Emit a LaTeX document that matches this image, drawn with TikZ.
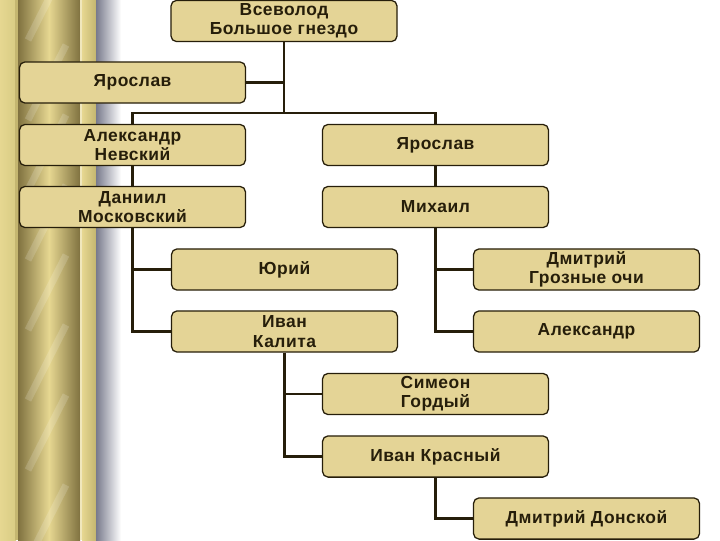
\documentclass[tikz,border=0pt]{standalone}
\usepackage{fontspec}
\setmainfont{Liberation Sans}[LetterSpace=3]
\usepackage{xcolor}
\usetikzlibrary{positioning}
\definecolor{rod_fill}{RGB}{228, 212, 150}
\definecolor{rod_line}{RGB}{38, 30, 10}
\definecolor{gold_pale}{RGB}{216, 204, 132}
\definecolor{gold_light}{RGB}{230, 215, 145}
\definecolor{gold_dark}{RGB}{128, 114, 64}
\definecolor{gold_mid}{RGB}{196, 182, 112}
\definecolor{shade_gray}{RGB}{120, 122, 140}

\begin{document}
\begin{tikzpicture}[x=0.025cm, y=-0.025cm,
          font=\bfseries\fontsize{12.4}{13.8}\selectfont,
          kbox/.style={draw=rod_line, line width=0.9pt, fill=rod_fill,
                       rounded corners=4pt, align=center, text=rod_line,
                       minimum width=5.65cm, minimum height=1.03cm, inner sep=1pt},
          link/.style={rod_line, line width=1.5pt}]
          \useasboundingbox (0,0) rectangle (720,540);
          % gold column on the left
          \shade[left color=gold_light, right color=gold_pale] (0,0) rectangle (16,540);
          \fill[gold_mid] (15,0) rectangle (18,540);
          \shade[left color=gold_dark, right color=gold_dark, middle color=gold_light]
            (18,0) rectangle (80,540);
          \begin{scope}
            \clip (20,0) rectangle (78,540);
            \foreach \y in {40, 120, 190, 260, 330, 400, 470, 560}
              \draw[white, opacity=0.16, line width=5pt] (28,\y) -- (66,\y-75);
          \end{scope}
          \fill[gold_light!60!white] (80,0) rectangle (82,540);
          \shade[left color=gold_light, right color=gold_mid] (82,0) rectangle (96,540);
          \shade[left color=shade_gray, right color=white] (96,0) rectangle (121,540);

          % family tree
          \node[kbox] (vsev) at (284, 21) {Всеволод\\Большое гнездо};
          \node[kbox] (yar1) at (132.5, 82.5) {Ярослав};
          \node[kbox] (alnev) at (132.5, 145) {Александр\\Невский};
          \node[kbox] (yar2) at (435.5, 145) {Ярослав};
          \node[kbox] (dan) at (132.5, 207) {Даниил\\Московский};
          \node[kbox] (mikh) at (435.5, 207) {Михаил};
          \node[kbox] (yur) at (284.5, 269.5) {Юрий};
          \node[kbox] (dmgr) at (586.5, 269.5) {Дмитрий\\Грозные очи};
          \node[kbox] (ivkal) at (284.5, 331.5) {Иван\\Калита};
          \node[kbox] (alex) at (586.5, 331.5) {Александр};
          \node[kbox] (sim) at (435.5, 394) {Симеон\\Гордый};
          \node[kbox] (ivkr) at (435.5, 456.5) {Иван Красный};
          \node[kbox] (don) at (586.5, 518.5) {Дмитрий Донской};
          \coordinate (fork) at (284, 113);

          \draw[link] (vsev.south) |- (yar1.east);
          \draw[link] (vsev.south) -- (fork);
          \draw[link] (fork) -| (alnev.north);
          \draw[link] (fork) -| (yar2.north);
          \draw[link] (alnev.south) -- (dan.north);
          \draw[link] (yar2.south) -- (mikh.north);
          \draw[link] (dan.south) |- (yur.west);
          \draw[link] (dan.south) |- (ivkal.west);
          \draw[link] (mikh.south) |- (dmgr.west);
          \draw[link] (mikh.south) |- (alex.west);
          \draw[link] (ivkal.south) |- (sim.west);
          \draw[link] (ivkal.south) |- (ivkr.west);
          \draw[link] (ivkr.south) |- (don.west);
        \end{tikzpicture}
\end{document}
